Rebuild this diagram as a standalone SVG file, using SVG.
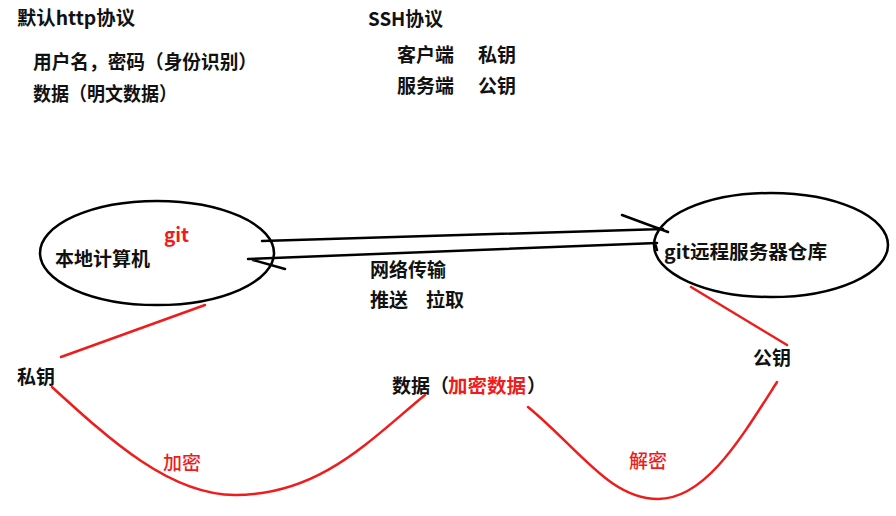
<svg xmlns="http://www.w3.org/2000/svg" width="896" height="516" viewBox="0 0 896 516">
<style>
text{font-family:"Noto Sans CJK SC","Microsoft YaHei",sans-serif;font-size:19px;font-weight:bold;fill:#111}
.r{fill:#f01c1c}
.rn{fill:#f01c1c;font-weight:500}
.k{fill:none;stroke:#000;stroke-width:2.5;stroke-linecap:round}
.rl{fill:none;stroke:#f01c1c;stroke-width:2.5;stroke-linecap:round}
</style>
<rect width="896" height="516" fill="#fff"/>
<g id="notes">
<text x="17" y="25" textLength="118" lengthAdjust="spacingAndGlyphs">默认http协议</text>
<text x="33" y="69" textLength="224" lengthAdjust="spacingAndGlyphs">用户名，密码（身份识别）</text>
<text x="33" y="101" textLength="144" lengthAdjust="spacingAndGlyphs">数据（明文数据）</text>
<text x="368" y="26" textLength="75" lengthAdjust="spacingAndGlyphs">SSH协议</text>
<text x="397" y="62">客户端</text>
<text x="478" y="62">私钥</text>
<text x="397" y="93">服务端</text>
<text x="478" y="93">公钥</text>
</g>
<g id="local">
<ellipse cx="157" cy="253" rx="117" ry="52" class="k"/>
<text x="164" y="242" class="r">git</text>
<text x="55" y="266" textLength="95" lengthAdjust="spacingAndGlyphs">本地计算机</text>
</g>
<g id="remote">
<ellipse cx="771" cy="245" rx="117" ry="52" class="k"/>
<text x="664" y="259" textLength="163" lengthAdjust="spacingAndGlyphs">git远程服务器仓库</text>
</g>
<g id="connectors">
<path class="k" d="M262,241 L663,229 M622,215 L668,232"/>
<path class="k" d="M248,259 L657,243 M655,243 L657,250 M253,260 L285,269"/>
<path class="rl" d="M61,357 L205,305"/>
<path class="rl" d="M52,387 C110,440 170,495 235,495 C320,495 370,440 425,395"/>
<path class="rl" d="M691,287 L787,345"/>
<path class="rl" d="M528,407 C580,450 610,499 658,499 C705,499 740,440 777,382"/>
</g>
<g id="transfer">
<text x="370" y="277">网络传输</text>
<text x="370" y="307">推送</text>
<text x="426" y="307">拉取</text>
</g>
<g id="privkey"><text x="17" y="384">私钥</text></g>
<g id="pubkey"><text x="753" y="365">公钥</text></g>
<g id="data">
<text x="392" y="393">数据（</text>
<text x="448" y="393" class="r" textLength="78" lengthAdjust="spacingAndGlyphs">加密数据</text>
<text x="527" y="393">）</text>
</g>
<g id="enc"><text x="163" y="470" class="rn">加密</text></g>
<g id="dec"><text x="629" y="468" class="rn">解密</text></g>
</svg>
